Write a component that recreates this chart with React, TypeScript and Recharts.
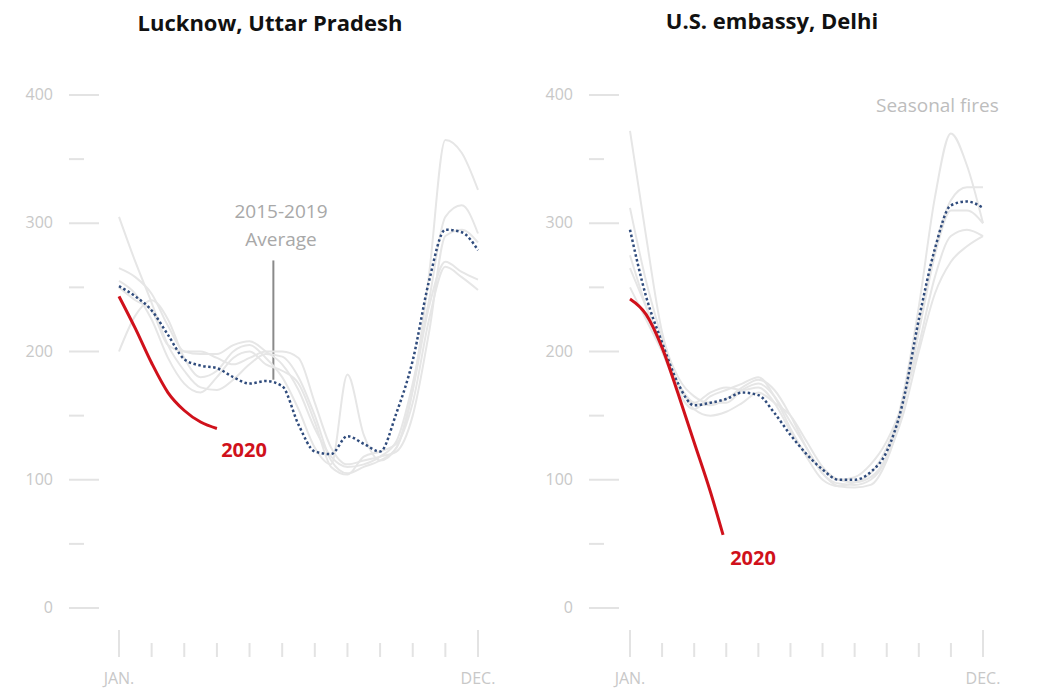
import React from "react"
import { LineChart, Line, XAxis, YAxis, ReferenceLine } from "recharts"

// half-month positions, 0 = Jan, 11 = Dec
const months = [0, 0.5, 1, 1.5, 2, 2.5, 3, 3.5, 4, 4.5, 5, 5.5, 6, 6.5, 7, 7.5, 8, 8.5, 9, 9.5, 10, 10.5, 11]
const monthTicks = [0, 1, 2, 3, 4, 5, 6, 7, 8, 9, 10, 11]
const yTicks = [0, 50, 100, 150, 200, 250, 300, 350, 400]
const yearKeys = ["y2015", "y2016", "y2017", "y2018", "y2019"]

// Lucknow, Uttar Pradesh
const luckY2015 = [305, 270, 238, 205, 185, 172, 170, 178, 190, 198, 196, 180, 150, 115, 105, 110, 115, 125, 170, 260, 365, 355, 326]
const luckY2016 = [265, 258, 245, 220, 200, 198, 198, 205, 208, 200, 190, 170, 140, 118, 110, 112, 118, 130, 175, 240, 305, 314, 292]
const luckY2017 = [200, 228, 240, 225, 195, 180, 185, 200, 205, 195, 180, 155, 125, 112, 182, 135, 115, 125, 170, 235, 270, 262, 256]
const luckY2018 = [255, 245, 225, 195, 175, 168, 180, 195, 200, 190, 185, 175, 145, 110, 104, 118, 122, 128, 160, 225, 266, 258, 248]
const luckY2019 = [250, 240, 232, 205, 200, 200, 195, 190, 195, 200, 200, 195, 160, 125, 112, 115, 118, 122, 150, 215, 290, 295, 285]
const luckAvg = [251, 243, 232, 213, 194, 189, 187, 180, 175, 177, 173, 143, 122, 120, 134, 128, 122, 152, 193, 255, 295, 293, 279]
const luck2020Months = [0, 0.5, 1, 1.5, 2, 2.5, 3]
const luck2020 = [243, 218, 191, 168, 154, 145, 140]

// U.S. embassy, Delhi
const delhiY2015 = [372, 290, 215, 180, 165, 160, 160, 170, 175, 165, 145, 125, 105, 97, 96, 100, 118, 165, 235, 320, 370, 345, 300]
const delhiY2016 = [312, 255, 210, 170, 155, 165, 170, 175, 180, 165, 140, 118, 100, 95, 98, 105, 125, 160, 220, 280, 318, 328, 328]
const delhiY2017 = [275, 235, 200, 172, 160, 168, 172, 170, 172, 160, 138, 120, 108, 100, 102, 112, 130, 160, 205, 258, 290, 295, 290]
const delhiY2018 = [265, 235, 205, 175, 155, 150, 153, 160, 168, 160, 150, 130, 110, 100, 98, 102, 118, 150, 200, 245, 270, 282, 290]
const delhiY2019 = [250, 225, 200, 175, 160, 158, 163, 172, 178, 170, 150, 125, 105, 95, 94, 96, 115, 155, 215, 275, 310, 310, 300]
const delhiAvg = [295, 243, 207, 175, 158, 160, 163, 168, 166, 152, 135, 120, 108, 100, 100, 106, 122, 160, 225, 280, 314, 317, 312]
const delhi2020Months = [0, 0.5, 1, 1.5, 2, 2.5, 2.9]
const delhi2020 = [241, 229, 203, 167, 129, 91, 57]

const buildRows = (years: number[][], avg: number[]) =>
  months.map((m, i) => {
    const row: any = { m, avg: avg[i] }
    years.forEach((ys, k) => (row[yearKeys[k]] = ys[i]))
    return row
  })

const luckRows = buildRows([luckY2015, luckY2016, luckY2017, luckY2018, luckY2019], luckAvg)
const delhiRows = buildRows([delhiY2015, delhiY2016, delhiY2017, delhiY2018, delhiY2019], delhiAvg)
const luck2020Rows = luck2020Months.map((m, i) => ({ m, v: luck2020[i] }))
const delhi2020Rows = delhi2020Months.map((m, i) => ({ m, v: delhi2020[i] }))

const FONT = "'Open Sans', 'Noto Sans', sans-serif"

function YTick(props: any) {
  const { x, y, payload, labelEnd, lineFrom, lineTo } = props
  const major = payload.value % 100 === 0
  return (
    <g>
      <line
        x1={x + lineFrom}
        x2={major ? x + lineTo : x + lineFrom + 15}
        y1={y}
        y2={y}
        stroke="#e3e3e3"
        strokeWidth={2}
      />
      {major && (
        <text x={x + labelEnd} y={y} dy={5} textAnchor="end" fill="#c8c8c8" fontSize={16} fontFamily={FONT}>
          {payload.value}
        </text>
      )}
    </g>
  )
}

function XTick(props: any) {
  const { x, y, payload } = props
  const v = payload.value
  const big = v === 0 || v === 11
  return (
    <g>
      <line x1={x} x2={x} y1={big ? y + 22 : y + 35} y2={y + 49} stroke="#e3e3e3" strokeWidth={2} />
      {big && (
        <text x={x} y={y + 76} textAnchor="middle" fill="#c8c8c8" fontSize={16} fontFamily={FONT}>
          {v === 0 ? "JAN." : "DEC."}
        </text>
      )}
    </g>
  )
}

type PanelProps = {
  rows: any[]
  redRows: any[]
  width: number
  yAxisWidth: number
  rightMargin: number
  labelEnd: number
  lineFrom: number
  lineTo: number
  children?: React.ReactNode
}

function Panel({ rows, redRows, width, yAxisWidth, rightMargin, labelEnd, lineFrom, lineTo, children }: PanelProps) {
  return (
    <LineChart width={width} height={698} data={rows} margin={{ top: 95, right: rightMargin, bottom: 0, left: 0 }}>
      <XAxis
        dataKey="m"
        type="number"
        domain={[0, 11]}
        ticks={monthTicks}
        interval={0}
        axisLine={false}
        tickLine={false}
        tickSize={0}
        tickMargin={0}
        height={90}
        tick={(p: any) => <XTick {...p} />}
      />
      <YAxis
        type="number"
        domain={[0, 400]}
        ticks={yTicks}
        interval={0}
        axisLine={false}
        tickLine={false}
        tickSize={0}
        tickMargin={0}
        width={yAxisWidth}
        tick={(p: any) => <YTick {...p} labelEnd={labelEnd} lineFrom={lineFrom} lineTo={lineTo} />}
      />
      {children}
      {yearKeys.map((k) => (
        <Line
          key={k}
          type="monotone"
          dataKey={k}
          stroke="#e6e6e6"
          strokeWidth={2}
          dot={false}
          activeDot={false}
          isAnimationActive={false}
        />
      ))}
      <Line
        type="monotone"
        dataKey="avg"
        stroke="#2f4b7c"
        strokeWidth={2.5}
        strokeDasharray="2.5 2.5"
        dot={false}
        activeDot={false}
        isAnimationActive={false}
      />
      <Line
        type="monotone"
        data={redRows}
        dataKey="v"
        stroke="#d0111b"
        strokeWidth={3}
        dot={false}
        activeDot={false}
        isAnimationActive={false}
      />
    </LineChart>
  )
}

const abs = (left: number, top: number, extra: React.CSSProperties = {}): React.CSSProperties => ({
  position: "absolute",
  left,
  top,
  fontFamily: FONT,
  whiteSpace: "nowrap",
  ...extra,
})

export default function App() {
  return (
    <div style={{ position: "absolute", left: 0, top: 0, width: 1062, height: 698, background: "#fff" }}>
      <div style={{ position: "absolute", left: 0, top: 0 }}>
        <Panel
          rows={luckRows}
          redRows={luck2020Rows}
          width={530}
          yAxisWidth={119}
          rightMargin={52}
          labelEnd={-66}
          lineFrom={-50}
          lineTo={-20}
        >
          <ReferenceLine
            segment={[
              { x: 4.73, y: 178 },
              { x: 4.73, y: 271 },
            ]}
            stroke="#8a8a8a"
            strokeWidth={2}
          />
        </Panel>
      </div>
      <div style={{ position: "absolute", left: 530, top: 0 }}>
        <Panel
          rows={delhiRows}
          redRows={delhi2020Rows}
          width={532}
          yAxisWidth={100}
          rightMargin={79}
          labelEnd={-57}
          lineFrom={-41}
          lineTo={-11}
        />
      </div>

      <div style={abs(70, 7, { width: 400, textAlign: "center", fontSize: 22, fontWeight: 700, color: "#111" })}>
        Lucknow, Uttar Pradesh
      </div>
      <div style={abs(572, 5, { width: 400, textAlign: "center", fontSize: 22, fontWeight: 700, color: "#111" })}>
        U.S. embassy, Delhi
      </div>
      <div
        style={abs(201, 197, { width: 160, textAlign: "center", fontSize: 19, lineHeight: "28px", color: "#a8a8a8" })}
      >
        2015-2019
        <br />
        Average
      </div>
      <div style={abs(876, 92, { fontSize: 19, color: "#bdbdbd" })}>Seasonal fires</div>
      <div style={abs(204, 436, { width: 80, textAlign: "center", fontSize: 20, fontWeight: 700, color: "#d0111b" })}>
        2020
      </div>
      <div style={abs(713, 544, { width: 80, textAlign: "center", fontSize: 20, fontWeight: 700, color: "#d0111b" })}>
        2020
      </div>
    </div>
  )
}
